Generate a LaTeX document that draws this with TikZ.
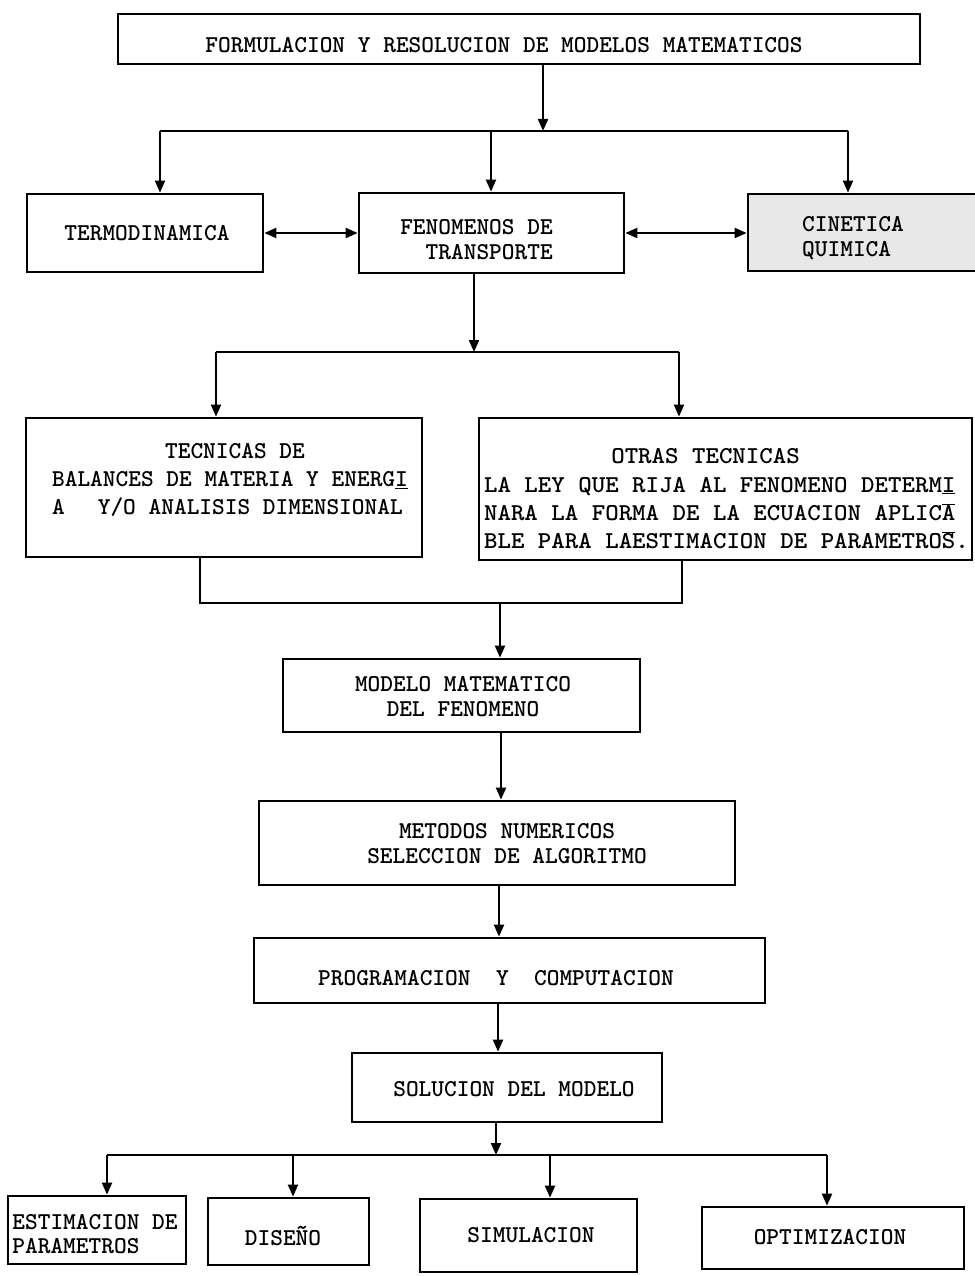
\documentclass[tikz,border=0pt]{standalone}
\usepackage{graphicx}
\usetikzlibrary{arrows.meta}
\newcommand{\ovl}[1]{$\overline{\hbox{#1}}$}
\tikzset{
  box/.style={draw, line width=2.7pt, inner sep=0pt},
  tx/.style={inner sep=0pt, font=\ttfamily\bfseries\fontsize{24.2}{#1}\selectfont},
  tx/.default=28,
  ln/.style={line width=2.1pt},
  arr/.style={ln, -{Triangle[length=12pt,width=10pt]}},
  dbl/.style={ln, {Triangle[length=12pt,width=10pt]}-{Triangle[length=12pt,width=10pt]}},
}
\begin{document}
\begin{tikzpicture}[x=1pt,y=-1pt]
\useasboundingbox (0,0) rectangle (974,1276);
\fill[white] (0,0) rectangle (974,1276);

% boxes
\node[box, minimum width=802pt, minimum height=50pt,
  label={[tx, xshift=-15pt, yshift=-6pt]center:FORMULACION Y RESOLUCION DE MODELOS MATEMATICOS}] (top) at (519,39) {};
\node[box, minimum width=236pt, minimum height=78pt,
  label={[tx, xshift=2pt]center:TERMODINAMICA}] (termo) at (145,233) {};
\node[box, minimum width=265pt, minimum height=80pt,
  label={[tx=25, align=right, xshift=-15pt, yshift=-7pt]center:FENOMENOS DE\\TRANSPORTE}] (fen) at (491.5,233) {};
\node[box, fill=gray!18, minimum width=232pt, minimum height=77pt,
  label={[tx=25, align=left, xshift=-11pt, yshift=-6pt]center:CINETICA\\QUIMICA}] (cin) at (864,232.5) {};
\node[box, minimum width=396pt, minimum height=139pt,
  label={[tx=28, align=left, xshift=6pt, yshift=7.5pt]center:\hspace*{113pt}TECNICAS DE\\BALANCES DE MATERIA Y ENERG\underline{I}\\A\hspace*{33pt}Y/O ANALISIS DIMENSIONAL}] (tec) at (224,487.5) {};
\node[box, minimum width=493pt, minimum height=142pt,
  label={[tx=28.3, xshift=1pt, yshift=-11.5pt]center:\scalebox{1.06}[1]{\begin{tabular}{@{}l@{}}\hspace*{120pt}OTRAS TECNICAS\\LA LEY QUE RIJA AL FENOMENO DETERM\underline{I}\\NARA LA FORMA DE LA ECUACION APLIC\ovl{A}\\BLE PARA LAESTIMACION DE PARAMETRO\ovl{S}.\end{tabular}}}] (otras) at (725.5,489) {};
\node[box, minimum width=357pt, minimum height=73pt,
  label={[tx=25, align=center, xshift=1.5pt, yshift=-1.5pt]center:MODELO MATEMATICO\\DEL FENOMENO}] (modelo) at (461.5,695.5) {};
\node[box, minimum width=476pt, minimum height=84pt,
  label={[tx=25, align=center, xshift=10pt, yshift=-1pt]center:METODOS NUMERICOS\\SELECCION DE ALGORITMO}] (metodos) at (497,843) {};
\node[box, minimum width=511pt, minimum height=65pt,
  label={[tx, xshift=-13.5pt, yshift=-7.5pt]center:PROGRAMACION\ \ Y\ \ COMPUTACION}] (prog) at (509.5,970.5) {};
\node[box, minimum width=310pt, minimum height=69pt,
  label={[tx, xshift=7pt, yshift=-1.5pt]center:SOLUCION DEL MODELO}] (sol) at (507,1087.5) {};
\node[box, minimum width=178pt, minimum height=68pt,
  label={[tx=24, align=left, xshift=-2pt, yshift=-4pt]center:ESTIMACION DE\\PARAMETROS}] (est) at (97,1230) {};
\node[box, minimum width=161pt, minimum height=67pt,
  label={[tx, xshift=-5.5pt, yshift=-4.5pt]center:DISEÑO}] (dis) at (288.5,1231.5) {};
\node[box, minimum width=217pt, minimum height=73pt,
  label={[tx, xshift=2.5pt]center:SIMULACION}] (sim) at (528.5,1235.5) {};
\node[box, minimum width=262pt, minimum height=62pt,
  label={[tx, xshift=-3pt, yshift=1pt]center:OPTIMIZACION}] (opt) at (833,1238) {};

% junction coordinates
\coordinate (a0) at (543,131);
\coordinate (aL) at (160,131);
\coordinate (aM) at (491,131);
\coordinate (aR) at (848,131);
\coordinate (b0) at (474,352);
\coordinate (bL) at (216,352);
\coordinate (bR) at (679,352);
\coordinate (cL) at (200,603);
\coordinate (cM) at (500,603);
\coordinate (cR) at (682,603);
\coordinate (v1) at (501,760);
\coordinate (v2) at (499,910);
\coordinate (v3) at (498,1030);
\coordinate (d0) at (496,1155);
\coordinate (dL) at (107,1155);
\coordinate (d2) at (293,1155);
\coordinate (d3) at (550,1155);
\coordinate (dR) at (827,1155);

% connectors
\draw[arr] (a0 |- top.south) -- (a0);
\draw[ln] (aL) -- (aR);
\draw[arr] (aL) -- (aL |- termo.north);
\draw[arr] (aM) -- (aM |- fen.north);
\draw[arr] (aR) -- (aR |- cin.north);
\draw[dbl] (termo.east) -- (fen.west);
\draw[dbl] (fen.east) -- (fen.east -| cin.west);

\draw[arr] (b0 |- fen.south) -- (b0);
\draw[ln] (bL) -- (bR);
\draw[arr] (bL) -- (bL |- tec.north);
\draw[arr] (bR) -- (bR |- otras.north);

\draw[ln] (cL |- tec.south) -- (cL) -- (cR) -- (cR |- otras.south);
\draw[arr] (cM) -- (cM |- modelo.north);

\draw[arr] (v1 |- modelo.south) -- (v1 |- metodos.north);
\draw[arr] (v2 |- metodos.south) -- (v2 |- prog.north);
\draw[arr] (v3 |- prog.south) -- (v3 |- sol.north);

\draw[arr] (d0 |- sol.south) -- (d0);
\draw[ln] (dL) -- (dR);
\draw[arr] (dL) -- (dL |- est.north);
\draw[arr] (d2) -- (d2 |- dis.north);
\draw[arr] (d3) -- (d3 |- sim.north);
\draw[arr] (dR) -- (dR |- opt.north);
\end{tikzpicture}
\end{document}
